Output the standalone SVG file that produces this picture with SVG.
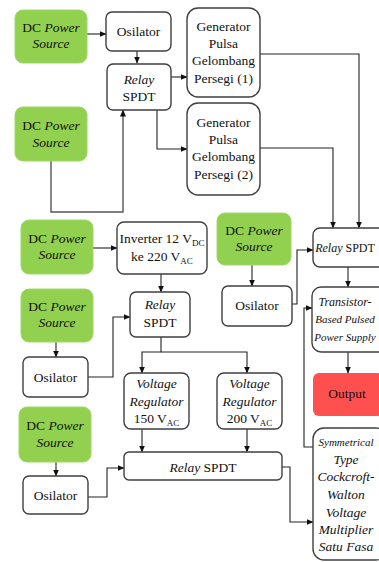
<svg xmlns="http://www.w3.org/2000/svg" width="379" height="562" viewBox="0 0 379 562" font-family="Liberation Serif, Times New Roman, serif">
<style>
.bg{fill:#ffffff}
.src{fill:#92D050;stroke:#9fd868;stroke-width:1}
.box{fill:#ffffff;stroke:#3f3f3f;stroke-width:1.4}
.out{fill:#FF5050;stroke:none}
text{font-family:"Liberation Serif",serif}
.t{font-size:13.5px;fill:#111;text-anchor:middle}
.i{font-style:italic}
.sub{font-size:9px}
.sm{font-size:12px}
.xs{font-size:11px}
.c{fill:none;stroke:#222;stroke-width:1.1}
.g{fill:none;stroke:#555;stroke-width:1.4}
</style>
<defs>
<marker id="ah" markerWidth="7" markerHeight="6" refX="6.5" refY="3" orient="auto" markerUnits="userSpaceOnUse">
<path d="M0,0 L7,3 L0,6 Z" fill="#111"/>
</marker>
</defs>
<rect class="bg" x="0" y="0" width="379" height="562"/>

<g id="connectors">
<path class="c" d="M87,34 H106" marker-end="url(#ah)"/>
<path class="c" d="M137,51 V63" marker-end="url(#ah)"/>
<path class="c" d="M171,77 H187" marker-end="url(#ah)"/>
<path class="c" d="M157,110 V149 H187" marker-end="url(#ah)"/>
<path class="g" d="M51,161 V212 H123 V110" marker-end="url(#ah)"/>
<path class="c" d="M260,54 H359 V228" marker-end="url(#ah)"/>
<path class="c" d="M260,148 H333 V228" marker-end="url(#ah)"/>
<path class="c" d="M93,248 H117" marker-end="url(#ah)"/>
<path class="c" d="M161,274 V292" marker-end="url(#ah)"/>
<path class="c" d="M56,342 V357" marker-end="url(#ah)"/>
<path class="c" d="M88,377 H113 V317 H130" marker-end="url(#ah)"/>
<path class="c" d="M161,337 V352 H142 V373" marker-end="url(#ah)"/>
<path class="c" d="M161,352 H247 V373" marker-end="url(#ah)"/>
<path class="c" d="M56,462 V476" marker-end="url(#ah)"/>
<path class="c" d="M88,497 H107 V468 H124" marker-end="url(#ah)"/>
<path class="c" d="M142,429 V452" marker-end="url(#ah)"/>
<path class="c" d="M247,429 V452" marker-end="url(#ah)"/>
<path class="c" d="M282,467 H290 V522 H313" marker-end="url(#ah)"/>
<path class="c" d="M252,265 V286" marker-end="url(#ah)"/>
<path class="c" d="M292,304 H297 V250 H313" marker-end="url(#ah)"/>
<path class="c" d="M348,267 V287" marker-end="url(#ah)"/>
<path class="c" d="M348,352 V373" marker-end="url(#ah)"/>
<path class="c" d="M313,447 H304 V308 H312" marker-end="url(#ah)"/>
</g>

<g id="dc1">
<rect class="src" x="15" y="10" width="72" height="53" rx="8"/>
<text class="t" x="51" y="32">DC <tspan class="i">Power</tspan></text>
<text class="t i" x="51" y="48">Source</text>
</g>
<g id="osc1">
<rect class="box" x="106" y="12" width="65" height="39" rx="6"/>
<text class="t" x="138.5" y="36">Osilator</text>
</g>
<g id="relay1">
<rect class="box" x="107" y="64" width="64" height="46" rx="6"/>
<text class="t i" x="139" y="84">Relay</text>
<text class="t" x="139" y="101">SPDT</text>
</g>
<g id="gen1">
<rect class="box" x="187" y="8" width="73" height="89" rx="11"/>
<text class="t" x="223.5" y="31">Generator</text>
<text class="t" x="223.5" y="48">Pulsa</text>
<text class="t" x="223.5" y="65">Gelombang</text>
<text class="t" x="223.5" y="83">Persegi (1)</text>
</g>
<g id="gen2">
<rect class="box" x="187" y="103" width="73" height="92" rx="11"/>
<text class="t" x="223.5" y="127">Generator</text>
<text class="t" x="223.5" y="144">Pulsa</text>
<text class="t" x="223.5" y="161">Gelombang</text>
<text class="t" x="223.5" y="179">Persegi (2)</text>
</g>
<g id="dc2">
<rect class="src" x="15" y="107" width="72" height="54" rx="8"/>
<text class="t" x="51" y="130">DC <tspan class="i">Power</tspan></text>
<text class="t i" x="51" y="147">Source</text>
</g>

<g id="dc3">
<rect class="src" x="21" y="220" width="72" height="54" rx="8"/>
<text class="t" x="57" y="243">DC <tspan class="i">Power</tspan></text>
<text class="t i" x="57" y="259">Source</text>
</g>
<g id="inverter">
<rect class="box" x="117" y="222" width="90" height="52" rx="7"/>
<text class="t" x="162" y="243">Inverter 12 V<tspan class="sub" dy="3">DC</tspan></text>
<text class="t" x="162" y="261">ke 220 V<tspan class="sub" dy="3">AC</tspan></text>
</g>
<g id="dc4">
<rect class="src" x="21" y="289" width="72" height="53" rx="8"/>
<text class="t" x="57" y="311">DC <tspan class="i">Power</tspan></text>
<text class="t i" x="57" y="327">Source</text>
</g>
<g id="relay2">
<rect class="box" x="130" y="292" width="60" height="45" rx="6"/>
<text class="t i" x="160" y="309">Relay</text>
<text class="t" x="160" y="327">SPDT</text>
</g>
<g id="osc2">
<rect class="box" x="23" y="357" width="65" height="40" rx="6"/>
<text class="t" x="55.5" y="382">Osilator</text>
</g>
<g id="vr150">
<rect class="box" x="124" y="373" width="65" height="56" rx="7"/>
<text class="t i" x="156.5" y="388">Voltage</text>
<text class="t i" x="156.5" y="406">Regulator</text>
<text class="t" x="156.5" y="423">150 V<tspan class="sub" dy="3">AC</tspan></text>
</g>
<g id="vr200">
<rect class="box" x="217" y="373" width="65" height="56" rx="7"/>
<text class="t i" x="249.5" y="388">Voltage</text>
<text class="t i" x="249.5" y="406">Regulator</text>
<text class="t" x="249.5" y="423">200 V<tspan class="sub" dy="3">AC</tspan></text>
</g>
<g id="dc5">
<rect class="src" x="19" y="407" width="72" height="55" rx="8"/>
<text class="t" x="55" y="430">DC <tspan class="i">Power</tspan></text>
<text class="t i" x="55" y="447">Source</text>
</g>
<g id="osc3">
<rect class="box" x="23" y="476" width="65" height="38" rx="6"/>
<text class="t" x="55.5" y="500">Osilator</text>
</g>
<g id="relay3">
<rect class="box" x="124" y="452" width="158" height="28" rx="5"/>
<text class="t" x="203" y="472"><tspan class="i">Relay</tspan> SPDT</text>
</g>

<g id="dc6">
<rect class="src" x="217" y="213" width="74" height="52" rx="8"/>
<text class="t" x="254" y="235">DC <tspan class="i">Power</tspan></text>
<text class="t i" x="254" y="251">Source</text>
</g>
<g id="osc4">
<rect class="box" x="222" y="286" width="70" height="40" rx="6"/>
<text class="t" x="257" y="310">Osilator</text>
</g>
<g id="relay4">
<rect class="box" x="313" y="228" width="76" height="39" rx="7"/>
<text class="t sm" x="345" y="252"><tspan class="i">Relay</tspan> SPDT</text>
</g>
<g id="tbpps">
<rect class="box" x="312" y="287" width="76" height="65" rx="9"/>
<text class="t i sm" x="345" y="306">Transistor-</text>
<text class="t i xs" x="345" y="323">Based Pulsed</text>
<text class="t i xs" x="345" y="341">Power Supply</text>
</g>
<g id="output">
<rect class="out" x="313" y="373" width="70" height="43" rx="6"/>
<text class="t" x="347" y="398">Output</text>
</g>
<g id="cw">
<rect class="box" x="313" y="428" width="74" height="132" rx="11"/>
<text class="t i xs" x="346" y="446">Symmetrical</text>
<text class="t i" x="346" y="464">Type</text>
<text class="t i" x="346" y="481">Cockcroft-</text>
<text class="t i" x="346" y="499">Walton</text>
<text class="t i" x="346" y="517">Voltage</text>
<text class="t i" x="346" y="534">Multiplier</text>
<text class="t i" x="346" y="551">Satu Fasa</text>
</g>
</svg>
